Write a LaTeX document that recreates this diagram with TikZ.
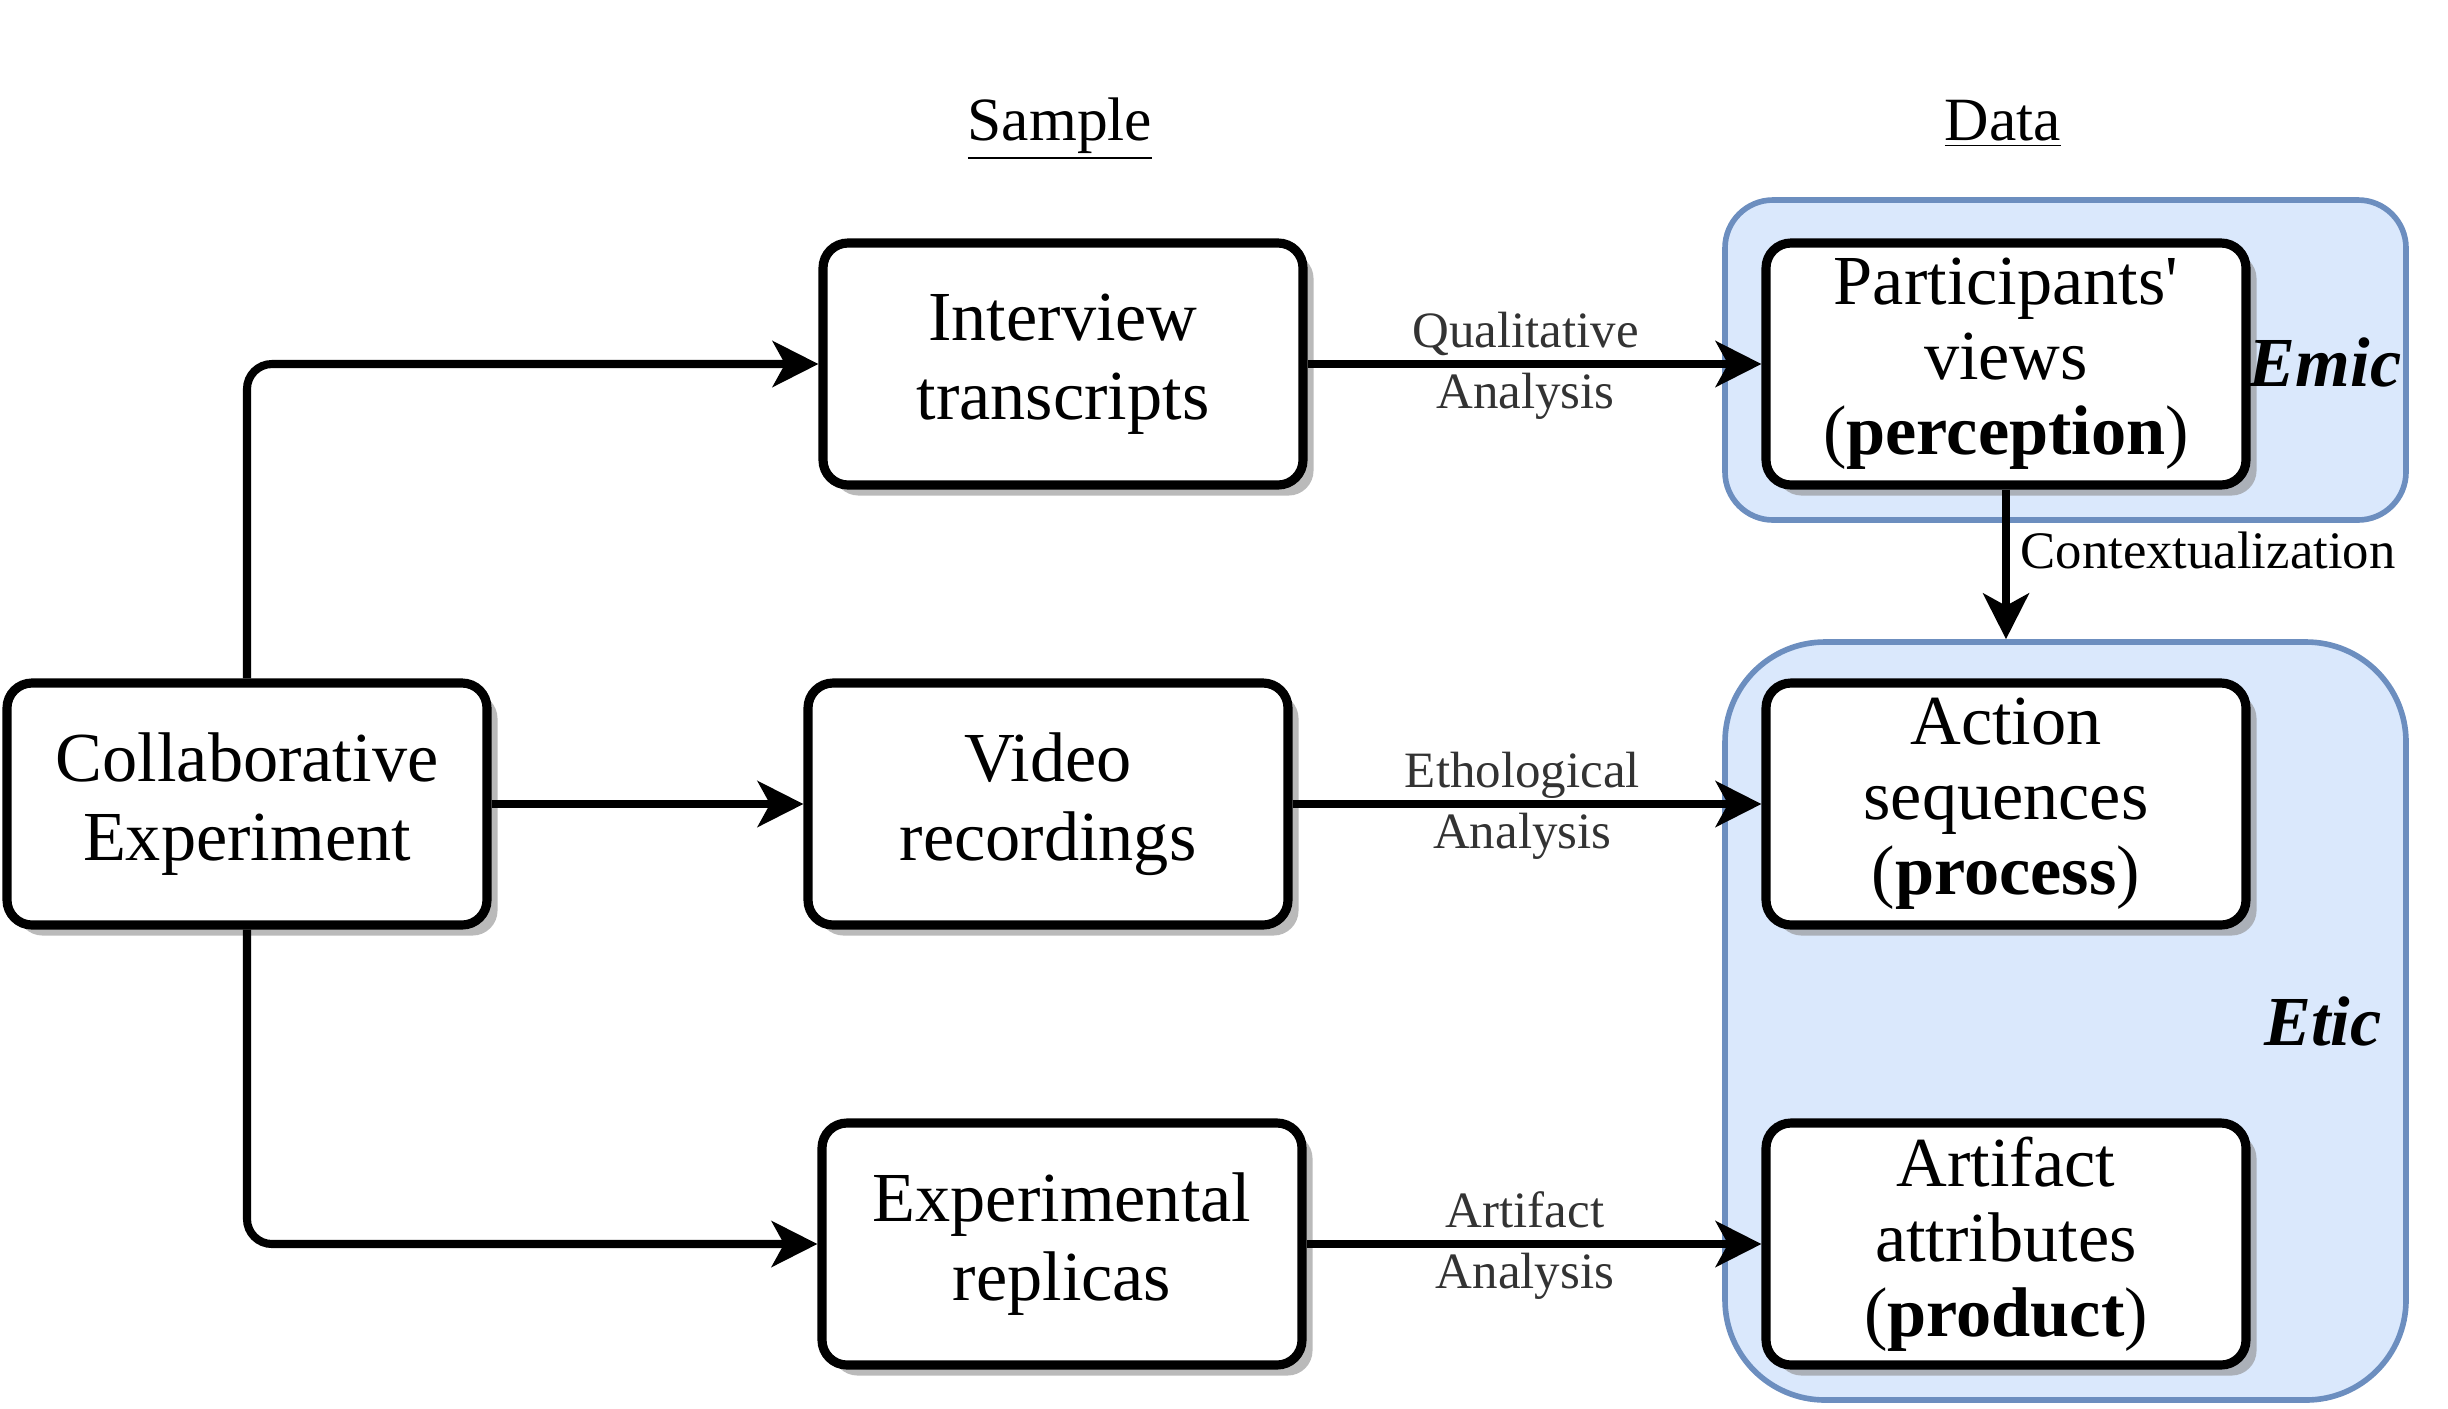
\documentclass[tikz,border=0pt]{standalone}
\usepackage{fontspec}
\setmainfont{Liberation Serif}
\usetikzlibrary{arrows.meta, shadows}
\definecolor{groupfill}{HTML}{DAE8FC}
\definecolor{groupline}{HTML}{6C8EBF}
\tikzstyle{box} = [rectangle, rounded corners=0.25cm, minimum width=4.8cm, minimum height=2.42cm, text width=4.4cm, align=center, inner sep=2pt, line width=2.6pt, draw=black, fill=white, drop shadow={shadow xshift=3pt, shadow yshift=-3pt, fill=black!45, opacity=0.6}, font=\fontsize{20}{22.5}\selectfont]
\tikzstyle{databox} = [box, font=\fontsize{20}{21.3}\selectfont]
\tikzstyle{group} = [rectangle, draw=groupline, fill=groupfill, line width=1.6pt, minimum width=6.81cm]
\tikzstyle{header} = [anchor=base, font=\fontsize{17.5}{20}\selectfont]
\tikzstyle{side} = [font=\fontsize{20}{22}\selectfont\bfseries\itshape]
\tikzstyle{elabel} = [font=\fontsize{14.5}{16.8}\selectfont, text=black!80, inner sep=1.5pt]
\tikzstyle{uplabel} = [elabel, anchor=base, yshift=1.7mm]
\tikzstyle{arrow} = [line width=2.3pt, -{Stealth[length=13pt, width=13pt, inset=3.5pt]}]

\begin{document}
\begin{tikzpicture}[node distance=4.4cm]
		\useasboundingbox (0,0) rectangle (24.48,-14.08);
		%\node (title) [header] {Sample / Data};
		\node (emic) [group, minimum height=3.2cm, rounded corners=0.48cm] at (20.655,-3.60) {};
		\node (etic) [group, minimum height=7.58cm, rounded corners=1cm] at (20.655,-10.21) {};

		\node (exp) [box] at (2.47,-8.04) {Collaborative\\Experiment};
		\node (video) [box, right of=exp, xshift=3.61cm] {Video\\recordings};
		\node (interview) [box, above of=video, xshift=1.5mm] {Interview\\transcripts};
		\node (replicas) [box, below of=video, xshift=1.4mm] {Experimental\\replicas};
		\node (actions) [databox, right of=video, xshift=5.18cm] {Action\\sequences\\(\textbf{process})};
		\node (views) [databox, above of=actions] {Participants\textquotesingle\\views\\(\textbf{perception})};
		\node (artifacts) [databox, below of=actions] {Artifact\\attributes\\(\textbf{product})};

		\node (sample) [header] at (10.60,-1.40) {\underline{Sample}};
		\node (data) [header] at (20.03,-1.40) {\underline{Data}};
		\node (emiclabel) [side] at (23.25,-3.62) {Emic};
		\node (eticlabel) [side] at (23.23,-10.21) {Etic};

		\draw [arrow, rounded corners=0.25cm] (exp.north) |- (interview.west);
		\draw [arrow] (exp.east) -- (video.west);
		\draw [arrow, rounded corners=0.25cm] (exp.south) |- (replicas.west);

		\draw [arrow] (interview.east) -- node[uplabel, pos=0.48] {Qualitative} node[elabel, below, pos=0.48] {Analysis} (views.west);
		\draw [arrow] (video.east) -- node[uplabel, pos=0.49] {Ethological} node[elabel, below, pos=0.49] {Analysis} (actions.west);
		\draw [arrow] (replicas.east) -- node[uplabel, pos=0.48] {Artifact} node[elabel, below, pos=0.48] {Analysis} (artifacts.west);
		\draw [arrow] (views.south) -- node[right, pos=0.41, inner sep=3pt, font=\fontsize{15}{17}\selectfont] {Contextualization} (views.south |- etic.north);
\end{tikzpicture}
\end{document}
